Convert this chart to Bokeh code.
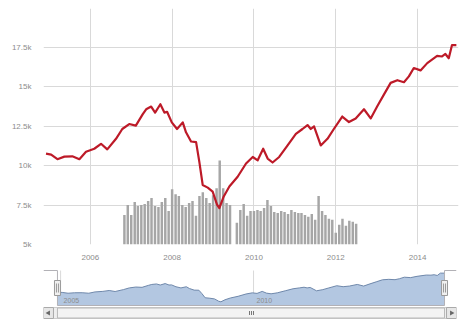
from datetime import datetime
import math
import pandas as pd
from bokeh.plotting import figure
from bokeh.models import Range1d, FixedTicker, ColumnDataSource
from bokeh.layouts import column
from bokeh.embed import file_html
from bokeh.resources import INLINE
from bokeh.core.properties import value

# ---------------- data ----------------
dates = ["2004-12-01", "2005-01-16", "2005-03-13", "2005-05-14", "2005-07-24", "2005-09-25",
         "2005-11-23", "2006-02-05", "2006-04-06", "2006-06-01", "2006-08-18", "2006-10-13",
         "2006-12-14", "2007-02-11", "2007-04-14", "2007-05-14", "2007-06-28", "2007-08-02",
         "2007-09-18", "2007-10-24", "2007-11-17", "2007-12-29", "2008-02-14", "2008-04-05",
         "2008-05-04", "2008-06-18", "2008-08-02", "2008-08-31", "2008-09-30", "2008-11-14",
         "2008-12-28", "2009-02-05", "2009-02-26", "2009-04-06", "2009-05-26", "2009-08-08",
         "2009-10-22", "2009-12-21", "2010-02-03", "2010-03-24", "2010-05-03", "2010-06-16",
         "2010-08-14", "2010-10-28", "2011-01-10", "2011-03-10", "2011-04-24", "2011-05-23",
         "2011-06-21", "2011-08-20", "2011-10-19", "2011-12-15", "2012-02-28", "2012-04-28",
         "2012-06-27", "2012-09-09", "2012-11-08", "2013-01-07", "2013-03-07", "2013-05-05",
         "2013-07-04", "2013-09-01", "2013-10-15", "2013-11-28", "2014-01-27", "2014-03-28",
         "2014-06-24", "2014-08-07", "2014-09-06", "2014-10-06", "2014-11-04", "2014-12-13"]
prices = [10750, 10690, 10400, 10560, 10580, 10400, 10870, 11060, 11375, 11020, 11690, 12310,
          12625, 12520, 13250, 13560, 13730, 13350, 13875, 13350, 13400, 12730, 12310, 12730,
          12100, 11520, 11480, 10230, 8770, 8600, 8350, 7520, 7310, 8040, 8670, 9290,
          10125, 10540, 10330, 11060, 10440, 10190, 10540, 11270, 12000, 12310, 12560, 12310,
          12480, 11270, 11690, 12310, 13100, 12750, 12980, 13560, 12980, 13770, 14500, 15230,
          15400, 15270, 15640, 16170, 16020, 16480, 16940, 16900, 17060, 16790, 17625, 17625]

vol_start = "2006-11-01"   # first monthly volume column
volumes = [30, 40, 30, 43, 39, 40, 41, 44, 47, 39, 38, 43, 47, 34, 56, 51, 49, 40, 38, 42,
           44, 29, 49, 53, 47, 42, 50, 57, 85, 57, 42, 40, None, 22, 35, 41, 29, 34, 34, 35,
           34, 37, 45, 39, 33, 32, 34, 33, 31, 35, 33, 32, 32, 30, 28, 31, 25, 49, 34, 30,
           26, 25, 12, 20, 26, 19, 24, 23, 21]

y_ticks = [5000, 7500, 10000, 12500, 15000, 17500]
y_tick_labels = ["5k", "7.5k", "10k", "12.5k", "15k", "17.5k"]
x_tick_years = [2006, 2008, 2010, 2012, 2014]
nav_tick_years = [2005, 2010]


def dy(y):
    yr = int(math.floor(y))
    a, b = datetime(yr, 1, 1), datetime(yr + 1, 1, 1)
    return a + (b - a) * (y - yr)


def ms(d):
    return (d - datetime(1970, 1, 1)).total_seconds() * 1000.0


dts = pd.to_datetime(dates)
vol_x = pd.date_range(vol_start, periods=len(volumes), freq="MS")
vsrc = ColumnDataSource(dict(x=[x for x, v in zip(vol_x, volumes) if v is not None],
                             top=[v for v in volumes if v is not None]))
src = ColumnDataSource(dict(x=dts, y=prices))

GRID = "#d9d9d9"
LABEL = "#8c8c8c"
FONT = "Liberation Sans"

# ---------------- main chart ----------------
PLOT_H = 239
p = figure(width=462, height=262, x_axis_type="datetime",
           x_range=Range1d(dy(2004.854), dy(2015.0)),
           y_range=Range1d(5000, 5000 + PLOT_H * 62.5),
           output_backend="svg", toolbar_location=None,
           min_border_left=42, min_border_right=4, min_border_top=8, min_border_bottom=15)
p.outline_line_color = None
p.background_fill_color = "white"
p.extra_y_ranges = {"vol": Range1d(0, PLOT_H)}

p.yaxis.ticker = FixedTicker(ticks=y_ticks)
p.yaxis.major_label_overrides = {t: l for t, l in zip(y_ticks, y_tick_labels)}
x_ticks = [ms(datetime(y, 1, 1)) for y in x_tick_years]
p.xaxis.ticker = FixedTicker(ticks=x_ticks)
p.xaxis.major_label_overrides = {t: str(y) for t, y in zip(x_ticks, x_tick_years)}
for ax in (p.xaxis, p.yaxis):
    ax.axis_line_color = None
    ax.major_tick_line_color = None
    ax.minor_tick_line_color = None
    ax.major_label_text_color = LABEL
    ax.major_label_text_font_size = "8px"
    ax.major_label_text_font = FONT
p.yaxis.major_label_standoff = 6
p.xaxis.major_label_standoff = 4
p.xgrid.ticker = FixedTicker(ticks=x_ticks)
p.ygrid.ticker = FixedTicker(ticks=y_ticks)
p.xgrid.grid_line_color = GRID
p.ygrid.grid_line_color = GRID

p.vbar(x="x", top="top", bottom=0, width=22 * 86400000, source=vsrc, y_range_name="vol",
       fill_color="#a6a6a6", line_color=None)
p.line(x="x", y="y", source=src, line_color="#bd1a28", line_width=2.2, line_join="round")

# ---------------- navigator + scrollbar ----------------
NAV_H = 58
nav = figure(width=460, height=NAV_H, x_range=Range1d(0, 414), y_range=Range1d(0, NAV_H),
             x_axis_location=None, y_axis_location=None,
             output_backend="svg", toolbar_location=None,
             min_border_left=43, min_border_right=3, min_border_top=0, min_border_bottom=0)
nav.outline_line_color = None
nav.grid.visible = False
nav.extra_x_ranges = {"time": Range1d(dy(2004.558), dy(2015.26))}
nav.extra_y_ranges = {"price": Range1d(580, 21460)}

nav_ticks = [datetime(y, 1, 1) for y in nav_tick_years]
nav.segment(x0=nav_ticks, x1=nav_ticks, y0=15, y1=50, x_range_name="time",
            line_color=GRID, line_width=1)
nav.varea(x="x", y1=5980, y2="y", source=src, x_range_name="time", y_range_name="price",
          fill_color="#b3c7e1")
nav.line(x="x", y="y", source=src, x_range_name="time", y_range_name="price",
         line_color="#6f88ab", line_width=1)
nav.text(x=nav_ticks, y=[20, 20], text=[str(y) for y in nav_tick_years], x_range_name="time",
         x_offset=3, text_font=value(FONT), text_font_size="7px", text_color=LABEL,
         text_baseline="middle", text_align="left")

# outline of the navigator
nav.line(x=[0, 14, 14, 402, 402, 414], y=[50, 50, 15, 15, 50, 50], line_color="#b2b1b6", line_width=1)
# handles
nav.quad(left=[11, 399], right=[17, 405], bottom=[25, 25], top=[40, 40],
         fill_color="#f0f0f0", line_color="#9a9a9a")
nav.segment(x0=[13, 15, 401, 403], x1=[13, 15, 401, 403], y0=28, y1=37, line_color="#9a9a9a")

# scrollbar
nav.quad(left=[10], right=[404], bottom=[2], top=[13], fill_color="#eeeeee", line_color="#cccccc")
nav.quad(left=[14], right=[402], bottom=[2.5], top=[12.5], fill_color="#f3f3f3", line_color="#b8b8b8")
nav.segment(x0=[206.5, 208.5, 210.5], x1=[206.5, 208.5, 210.5], y0=5.5, y1=9.5, line_color="#777777")
nav.quad(left=[0, 404], right=[10, 414], bottom=[2, 2], top=[13, 13],
         fill_color="#e6e6e6", line_color="#aaaaaa")
nav.scatter(x=[5, 409], y=[7.5, 7.5], marker="triangle", angle=[math.pi / 2, -math.pi / 2],
            size=5, fill_color="#666666", line_color=None)

layout = column(p, nav, spacing=0)
open("out.html", "w").write(file_html(layout, INLINE))
